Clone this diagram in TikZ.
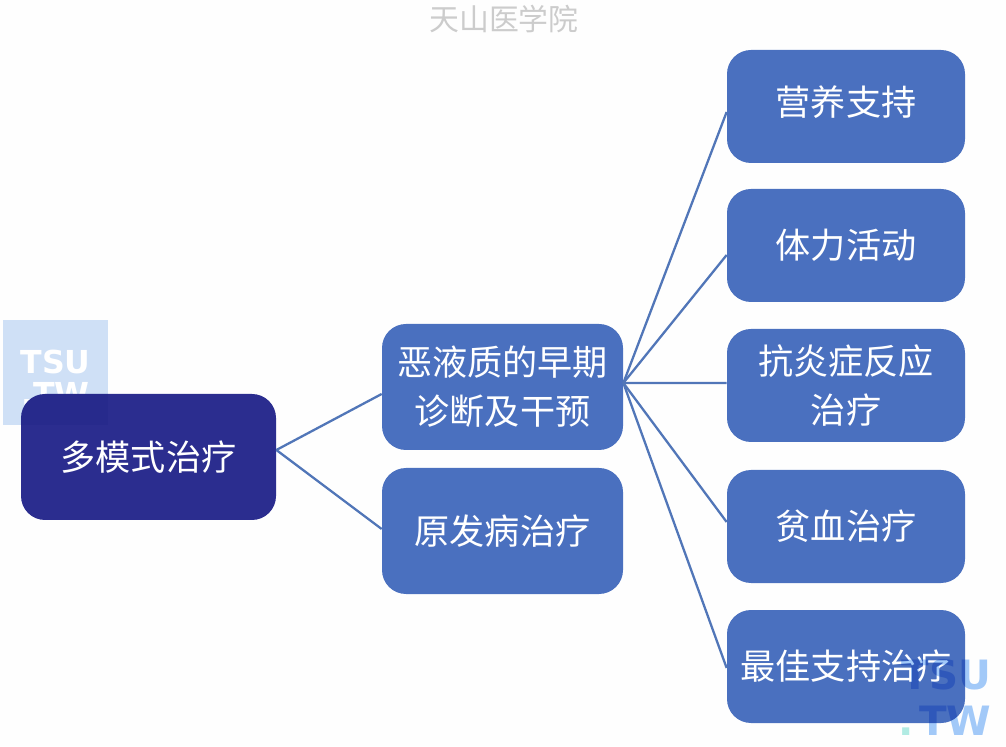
\documentclass[tikz,border=0pt]{standalone}
\usepackage{fontspec}
\usepackage{xcolor}
\newfontfamily\cjk{Noto Sans CJK SC}
\newfontfamily\wmfont{DejaVu Sans Bold}
\definecolor{rootblue}{HTML}{2B2D8F}
\definecolor{boxblue}{HTML}{4A70BF}
\definecolor{linkblue}{HTML}{5176B8}
\definecolor{wmpale}{HTML}{CFE0F6}
\definecolor{wmblue}{HTML}{A3CAF9}
\definecolor{wmteal}{HTML}{B2ECE4}
\usetikzlibrary{positioning}

\begin{document}
\begin{tikzpicture}[
    rootbox/.style={draw=none, fill=rootblue, rounded corners=0.48cm, minimum width=5.1cm, minimum height=2.52cm, text=white, align=center, font=\cjk\fontsize{20}{27.9}\selectfont},
    midbox/.style={rootbox, fill=boxblue, minimum width=4.82cm},
    leafbox/.style={rootbox, fill=boxblue, minimum width=4.76cm, minimum height=2.26cm},
    link/.style={draw=linkblue, line width=1.3pt},
    every node/.style={inner sep=0pt}
]
% Canvas
\fill[white!99.5!black] (0, 0) rectangle (20.12, 14.92);
\useasboundingbox (0, 0) rectangle (20.12, 14.92);

% Title
\node[font=\cjk\fontsize{17}{20}\selectfont, text=black!20] (title) at (10.08, 14.54) {天山医学院};

% Watermark behind the root
\node[fill=wmpale, minimum width=2.1cm, minimum height=2.1cm] (wmleft) at (1.11, 7.47) {};
\node[font=\wmfont\fontsize{18}{18.1}\selectfont, text=white, align=center] (wmlefttext) at (1.11, 7.36) {TSU\\.TW};

% Root
\node[rootbox] (root) at (2.97, 5.78) {多模式治疗};
\begin{scope}[blend mode=multiply]
\clip[rounded corners=0.48cm] (root.south west) rectangle (root.north east);
\fill[wmpale!40!white] (wmleft.south west) rectangle (wmleft.north east);
\end{scope}

% Middle
\node[midbox] (early) at (10.05, 7.18) {恶液质的早期\\诊断及干预};
\node[midbox] (primary) at (10.05, 4.30) {原发病治疗};

% Leaves
\node[leafbox] (nutrition) at (16.92, 12.79) {\raisebox{0.08cm}[0.88em][0.12em]{营养支持}};
\node[leafbox] (activity) at (16.92, 10.01) {体力活动};
\node[leafbox] (inflam) at (16.92, 7.21) {抗炎症反应\\治疗};
\node[leafbox] (anemia) at (16.92, 4.39) {贫血治疗};
\node[leafbox] (support) at (16.92, 1.59) {最佳支持治疗};

% Links
\draw[link] ([yshift=0.14cm]root.east) -- ([yshift=-0.14cm]early.west);
\draw[link] ([yshift=0.14cm]root.east) -- ([yshift=0.04cm]primary.west);
\draw[link] ([yshift=0.08cm]early.east) -- ([yshift=-0.11cm]nutrition.west);
\draw[link] ([yshift=0.08cm]early.east) -- ([yshift=-0.19cm]activity.west);
\draw[link] ([yshift=0.08cm]early.east) -- ([yshift=0.05cm]inflam.west);
\draw[link] ([yshift=0.08cm]early.east) -- ([yshift=0.09cm]anemia.west);
\draw[link] ([yshift=0.08cm]early.east) -- ([yshift=-0.03cm]support.west);

% Watermark over the last leaf
\begin{scope}[blend mode=multiply]
\node[font=\wmfont\fontsize{23}{26}\selectfont, text=wmblue, align=right] (wmright) at (18.9, 0.97) {TSU\\\textcolor{wmteal}{.}\kern0.12em TW};
\end{scope}

\end{tikzpicture}
\end{document}
